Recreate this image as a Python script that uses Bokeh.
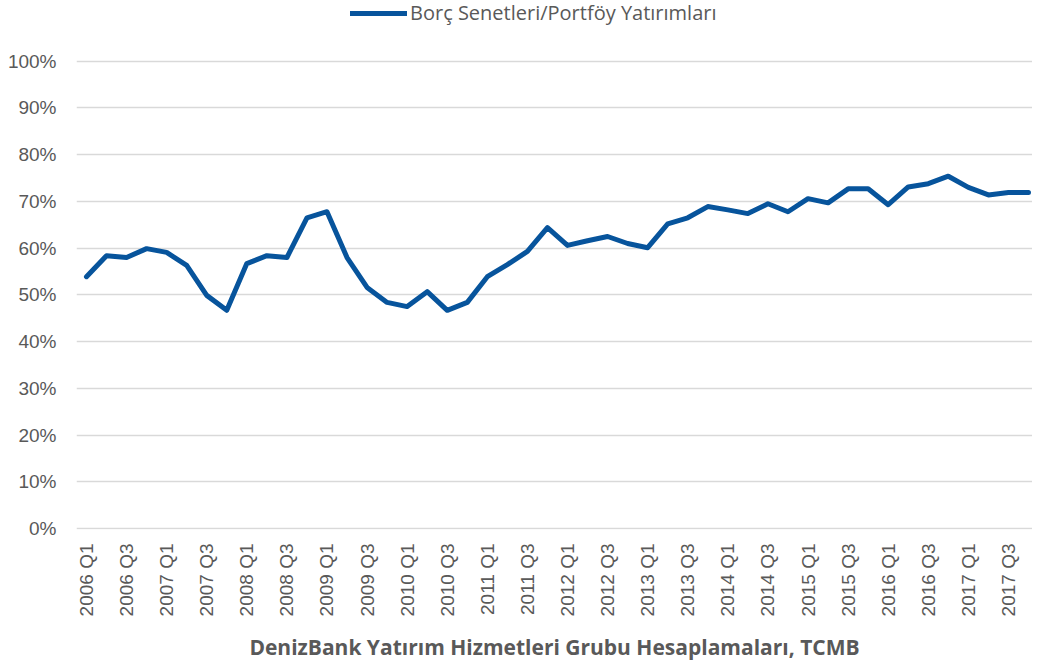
import math
from bokeh.plotting import figure
from bokeh.models import Range1d, FixedTicker, NumeralTickFormatter, Legend, LegendItem
from bokeh.embed import file_html
from bokeh.resources import INLINE

quarters = []
for yr in range(2006, 2018):
    for q in range(1, 5):
        quarters.append(f"{yr} Q{q}")

values = [53.9, 58.4, 58.0, 59.9, 59.1, 56.3, 49.9, 46.7,
          56.7, 58.4, 58.0, 66.5, 67.8, 58.0, 51.6, 48.4,
          47.5, 50.7, 46.7, 48.4, 53.9, 56.5, 59.3, 64.4,
          60.6, 61.6, 62.5, 61.0, 60.1, 65.2, 66.5, 68.9,
          68.2, 67.4, 69.5, 67.8, 70.6, 69.7, 72.7, 72.7,
          69.3, 73.1, 73.8, 75.4, 73.0, 71.4, 71.9, 71.9]

series_name = "Borç Senetleri/Portföy Yatırımları"
x_title = "DenizBank Yatırım Hizmetleri Grubu Hesaplamaları, TCMB"

xs = list(range(len(quarters)))
ys = [v / 100 for v in values]

TXT = "#595959"
FONT = "Liberation Sans"

p = figure(width=1032, height=664, output_backend="svg", toolbar_location=None,
           x_range=Range1d(-0.4975, 47.2), y_range=Range1d(-0.002, 1.130),
           min_border_left=76, min_border_right=0, min_border_top=0, min_border_bottom=134)
p.outline_line_color = None
p.background_fill_color = "white"

r = p.line(xs, ys, line_color="#07549C", line_width=5, line_cap="round", line_join="round")

p.xgrid.grid_line_color = None
p.ygrid.grid_line_color = "#D9D9D9"
p.ygrid.grid_line_width = 1.5

p.yaxis.ticker = FixedTicker(ticks=[i / 10 for i in range(11)])
p.yaxis.formatter = NumeralTickFormatter(format="0%")
p.yaxis.axis_line_color = None
p.yaxis.major_tick_line_color = None
p.yaxis.minor_tick_line_color = None
p.yaxis.major_label_standoff = 14
p.yaxis.major_label_text_font = FONT
p.yaxis.major_label_text_font_size = "19px"
p.yaxis.major_label_text_color = TXT

tick_idx = list(range(0, len(quarters), 2))
p.xaxis.ticker = FixedTicker(ticks=tick_idx)
p.xaxis.major_label_overrides = {i: quarters[i] for i in tick_idx}
p.xaxis.major_label_orientation = math.pi / 2
p.xaxis.axis_line_color = None
p.xaxis.major_tick_line_color = None
p.xaxis.minor_tick_line_color = None
p.xaxis.major_label_standoff = 8
p.xaxis.major_label_text_font = FONT
p.xaxis.major_label_text_font_size = "19px"
p.xaxis.major_label_text_color = TXT
p.xaxis.axis_label = x_title
p.xaxis.axis_label_text_font = "Open Sans"
p.xaxis.axis_label_text_font_size = "21px"
p.xaxis.axis_label_text_font_style = "bold"
p.xaxis.axis_label_text_color = TXT
p.xaxis.axis_label_standoff = 14

legend = Legend(items=[LegendItem(label=series_name, renderers=[r])],
                location=(274, 503), orientation="horizontal",
                label_text_font="Open Sans", label_text_font_size="20px", label_text_color=TXT,
                glyph_width=57, glyph_height=18, border_line_color=None,
                background_fill_alpha=0, padding=0, margin=0, spacing=0, label_standoff=3)
p.add_layout(legend, "center")

open("out.html", "w").write(file_html(p, INLINE))
